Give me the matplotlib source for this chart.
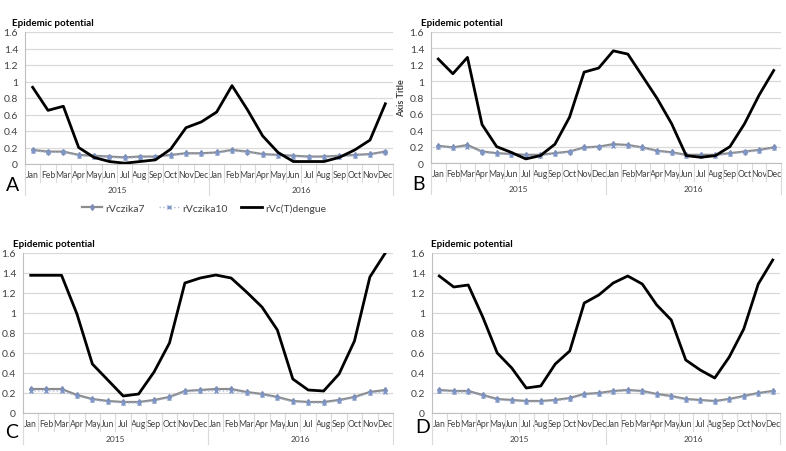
import numpy as np
import matplotlib
matplotlib.use("Agg")
import matplotlib.pyplot as plt
from matplotlib.transforms import blended_transform_factory
from matplotlib.ticker import FuncFormatter

plt.rcParams['font.family'] = ['Lato', 'DejaVu Sans']

months = ["Jan", "Feb", "Mar", "Apr", "May", "Jun", "Jul", "Aug", "Sep", "Oct", "Nov", "Dec"] * 2
years = ["2015", "2016"]

# panel A
zika7_a = [0.17, 0.15, 0.15, 0.11, 0.10, 0.09, 0.08, 0.09, 0.09, 0.11, 0.13, 0.13,
           0.14, 0.17, 0.15, 0.12, 0.11, 0.10, 0.09, 0.09, 0.10, 0.11, 0.12, 0.15]
zika10_a = [0.16, 0.14, 0.14, 0.10, 0.09, 0.08, 0.07, 0.08, 0.08, 0.10, 0.12, 0.12,
            0.13, 0.16, 0.14, 0.11, 0.10, 0.09, 0.08, 0.08, 0.09, 0.10, 0.11, 0.14]
dengue_a = [0.93, 0.65, 0.70, 0.20, 0.08, 0.03, 0.01, 0.03, 0.05, 0.18, 0.44, 0.51,
            0.63, 0.95, 0.66, 0.34, 0.14, 0.03, 0.03, 0.03, 0.08, 0.17, 0.29, 0.73]

# panel B
zika7_b = [0.21, 0.19, 0.22, 0.14, 0.12, 0.11, 0.10, 0.10, 0.12, 0.14, 0.19, 0.20,
           0.23, 0.22, 0.19, 0.15, 0.13, 0.10, 0.10, 0.10, 0.12, 0.14, 0.16, 0.19]
zika10_b = [0.20, 0.18, 0.20, 0.13, 0.11, 0.10, 0.09, 0.09, 0.11, 0.13, 0.18, 0.19,
            0.21, 0.21, 0.18, 0.14, 0.12, 0.09, 0.09, 0.09, 0.11, 0.13, 0.15, 0.18]
dengue_b = [1.27, 1.09, 1.29, 0.47, 0.20, 0.13, 0.05, 0.09, 0.23, 0.56, 1.11, 1.16,
            1.37, 1.33, 1.06, 0.79, 0.48, 0.09, 0.07, 0.09, 0.20, 0.48, 0.83, 1.13]

# panel C
zika7_c = [0.24, 0.24, 0.24, 0.18, 0.14, 0.12, 0.11, 0.11, 0.13, 0.16, 0.22, 0.23,
           0.24, 0.24, 0.21, 0.19, 0.16, 0.12, 0.11, 0.11, 0.13, 0.16, 0.21, 0.23]
zika10_c = [0.22, 0.22, 0.22, 0.17, 0.13, 0.11, 0.10, 0.10, 0.12, 0.15, 0.21, 0.22,
            0.22, 0.22, 0.20, 0.18, 0.15, 0.11, 0.10, 0.10, 0.12, 0.15, 0.20, 0.21]
dengue_c = [1.377, 1.377, 1.377, 0.99, 0.49, 0.33, 0.17, 0.19, 0.41, 0.70, 1.30, 1.35,
            1.38, 1.35, 1.21, 1.06, 0.83, 0.34, 0.23, 0.22, 0.39, 0.72, 1.36, 1.60]

# panel D
zika7_d = [0.23, 0.22, 0.22, 0.18, 0.14, 0.13, 0.12, 0.12, 0.13, 0.15, 0.19, 0.20,
           0.22, 0.23, 0.22, 0.19, 0.17, 0.14, 0.13, 0.12, 0.14, 0.17, 0.20, 0.22]
zika10_d = [0.22, 0.21, 0.21, 0.17, 0.13, 0.12, 0.11, 0.11, 0.12, 0.14, 0.18, 0.19,
            0.21, 0.22, 0.21, 0.18, 0.16, 0.13, 0.12, 0.11, 0.13, 0.16, 0.19, 0.21]
dengue_d = [1.37, 1.26, 1.28, 0.96, 0.60, 0.45, 0.25, 0.27, 0.49, 0.62, 1.10, 1.18,
            1.30, 1.37, 1.29, 1.08, 0.93, 0.53, 0.43, 0.35, 0.56, 0.84, 1.29, 1.53]

W, H = 786, 452
fig = plt.figure(figsize=(W / 100, H / 100), dpi=100)


def px_axes(left, top, right, bottom):
    return fig.add_axes([left / W, 1 - bottom / H, (right - left) / W, (bottom - top) / H])


def draw_panel(ax, z7, z10, dg, h_px, letter, letter_xy, title_xy):
    x = np.arange(len(months))
    ax.plot(x, z7, color='#8c8c8c', lw=1.6, marker='d', ms=3,
            mfc='#7d8db5', mec='#7d8db5', label='rVczika7', zorder=3)
    ax.plot(x, z10, color='#a9bde0', lw=1.0, ls=':', marker='x', ms=3.5,
            mec='#7f97c8', mew=1.0, label='rVczika10', zorder=3)
    ax.plot(x, dg, color='black', lw=2.0, label='rVc(T)dengue', zorder=4)

    ax.set_xlim(-0.5, len(months) - 0.5)
    ax.set_ylim(0, 1.6)
    ax.set_yticks(np.arange(0, 1.61, 0.2))
    ax.yaxis.set_major_formatter(FuncFormatter(lambda v, p: '%g' % round(v, 1)))
    ax.grid(axis='y', color='#d9d9d9', lw=0.9)
    ax.set_axisbelow(True)
    for s in ['top', 'right']:
        ax.spines[s].set_visible(False)
    ax.spines['left'].set_color('#bfbfbf')
    ax.spines['bottom'].set_color('#bfbfbf')
    ax.tick_params(axis='y', length=0, labelsize=7.5, labelcolor='#404040', pad=5)
    ax.set_xticks(x)
    ax.set_xticklabels(months)
    ax.tick_params(axis='x', length=0, labelsize=6.2, labelcolor='#404040', pad=4)

    # Excel style category separators
    tr = blended_transform_factory(ax.transData, ax.transAxes)
    short = -18 / h_px
    long_ = -31 / h_px
    for i in range(len(months) + 1):
        d = long_ if i % 12 == 0 else short
        ax.plot([i - 0.5, i - 0.5], [0, d], color='#dadada', lw=0.8,
                transform=tr, clip_on=False)
    for k, yr in enumerate(years):
        ax.text(k * 12 + 5.5, -26 / h_px, yr, transform=tr, ha='center',
                va='center', fontsize=6, color='#404040')

    fig.text(letter_xy[0] / W, 1 - letter_xy[1] / H, letter, fontsize=14,
             ha='center', va='center', color='black')
    fig.text(title_xy[0] / W, 1 - title_xy[1] / H, 'Epidemic potential',
             fontsize=7, fontweight='bold', ha='left', va='center', color='black')


ax_a = px_axes(25, 33, 393, 165)
draw_panel(ax_a, zika7_a, zika10_a, dengue_a, 132, 'A', (13, 186), (12, 24))
ax_a.legend(loc='center', bbox_to_anchor=((204 - 25) / 368, -44 / 132), ncol=3,
            frameon=False, fontsize=7.5, handlelength=2.0, handletextpad=0.3,
            columnspacing=1.3, labelcolor='#404040')

ax_b = px_axes(431, 33, 781, 164)
draw_panel(ax_b, zika7_b, zika10_b, dengue_b, 131, 'B', (418, 185), (421, 24))
fig.text(402 / W, 1 - 98 / H, 'Axis Title', rotation=90, fontsize=6.5,
         fontweight='bold', ha='center', va='center', color='#404040')

ax_c = px_axes(23, 254, 393, 414)
draw_panel(ax_c, zika7_c, zika10_c, dengue_c, 160, 'C', (12, 433), (13, 245))

ax_d = px_axes(432, 254, 780, 414)
draw_panel(ax_d, zika7_d, zika10_d, dengue_d, 160, 'D', (423, 428), (431, 245))

fig.savefig('out.png', dpi=100, facecolor='white')
